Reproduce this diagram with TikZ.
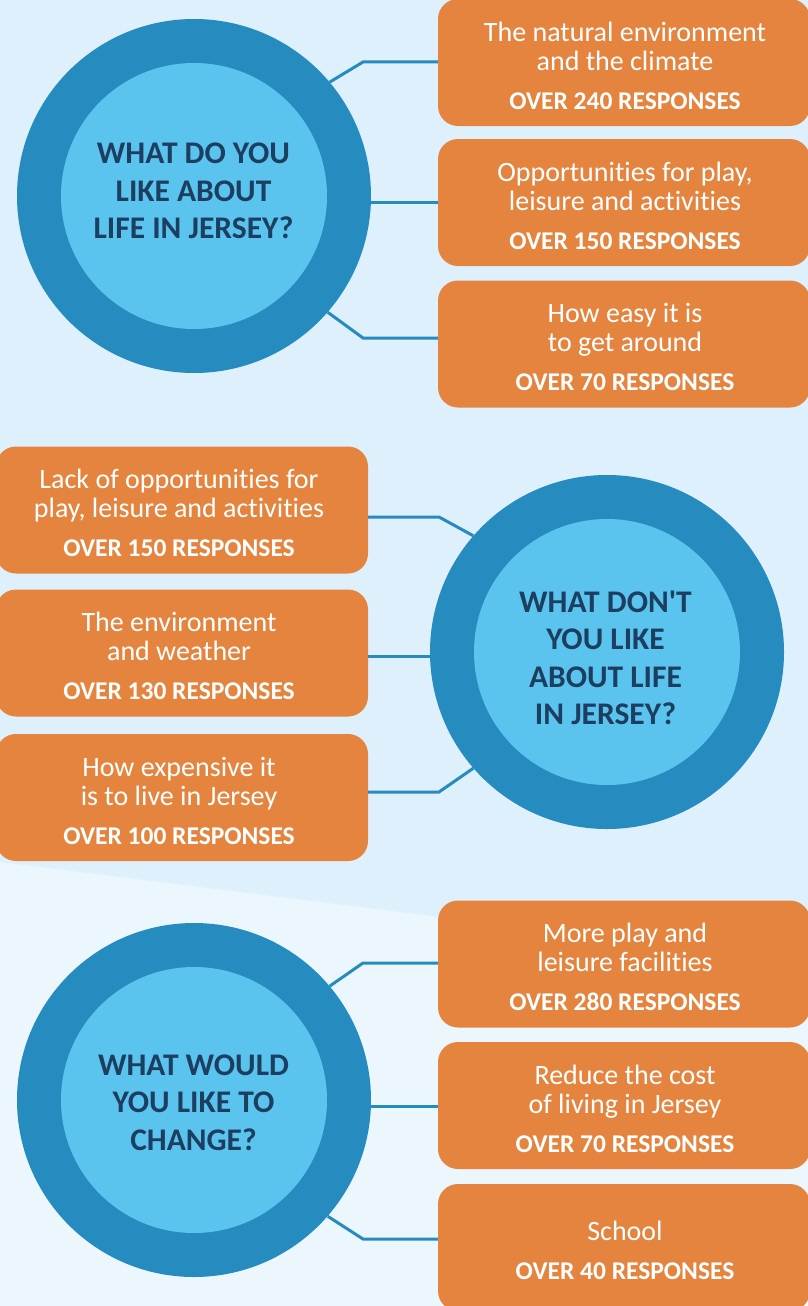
\documentclass[tikz,border=0pt]{standalone}
\usepackage{fontspec}
\setmainfont{Carlito}[Ligatures={TeXOff,CommonOff}]
\usetikzlibrary{calc}
\definecolor{bgtop}{HTML}{DDF0FB}
\definecolor{bglow}{HTML}{ECF7FD}
\definecolor{ringblue}{HTML}{268CBF}
\definecolor{coreblue}{HTML}{5BC4EE}
\definecolor{boxorange}{HTML}{E5843F}
\definecolor{navy}{HTML}{1C3F61}
% bold response count line
\newcommand\tally[1]{{\fontsize{25.5}{29}\selectfont\bfseries #1}}
\begin{document}
\begin{tikzpicture}[x=1pt,y=-1pt,
  ring/.style={circle,fill=ringblue,minimum size=354pt,inner sep=0pt},
  core/.style={circle,fill=coreblue,minimum size=266pt,inner sep=0pt},
  question/.style={text=navy,font=\fontsize{31.5}{37.5}\selectfont\bfseries,align=center,inner sep=0pt},
  answerbox/.style={fill=boxorange,rounded corners=20pt,minimum width=372pt,minimum height=127pt,inner sep=0pt},
  answer/.style={text=white,font=\fontsize{28}{29}\selectfont,align=center,inner sep=0pt},
  link/.style={draw=ringblue,line width=3pt}]

% background with the lighter lower band
\useasboundingbox (0,0) rectangle (808,1306);
\fill[bgtop] (0,0) rectangle (808,1306);
\fill[bglow] (0,862) -- (808,963) -- (808,1306) -- (0,1306) -- cycle;

% ---------- section 1 ----------
\node[answerbox] (r1) at (624,62.5) {};
\node[answerbox] (r2) at (624,202.5) {};
\node[answerbox] (r3) at (624,344) {};
\node[ring] (c1) at (194,196) {};
\node[core] (c1i) at (194,196) {};
\coordinate (k1) at (363,62);
\coordinate (k3) at (363,338);
\draw[link] (c1.40) -- (k1) -- (k1 -| r1.west);
\draw[link] (c1.east |- 0,202) -- (r2.west |- 0,202);
\draw[link] (c1.-41) -- (k3) -- (k3 -| r3.west);
\node[question] (q1) at (193.5,191) {WHAT DO YOU\\LIKE ABOUT\\LIFE IN JERSEY?};
\node[answer] (t1) at ($(r1.center)+(1,3)$) {The natural environment\\and the climate\\[10pt]\tally{OVER 240 RESPONSES}};
\node[answer] (t2) at ($(r2.center)+(1,3)$) {Opportunities for play,\\leisure and activities\\[10pt]\tally{OVER 150 RESPONSES}};
\node[answer] (t3) at ($(r3.center)+(1,3)$) {How easy it is\\to get around\\[10pt]\tally{OVER 70 RESPONSES}};

% ---------- section 2 ----------
\node[answerbox] (l1) at (182,510) {};
\node[answerbox] (l2) at (182,653) {};
\node[answerbox] (l3) at (182,797.5) {};
\node[ring] (c2) at (607,652) {};
\node[core] (c2i) at (607,652) {};
\coordinate (k4) at (439,517);
\coordinate (k6) at (439,792);
\draw[link] (c2.139) -- (k4) -- (k4 -| l1.east);
\draw[link] (c2.west |- 0,656) -- (l2.east |- 0,656);
\draw[link] (c2.221) -- (k6) -- (k6 -| l3.east);
\node[question] (q2) at (605.5,658) {WHAT DON'T\\YOU LIKE\\ABOUT LIFE\\IN JERSEY?};
\node[answer] (t4) at ($(l1.center)+(-3,3)$) {Lack of opportunities for\\play, leisure and activities\\[10pt]\tally{OVER 150 RESPONSES}};
\node[answer] (t5) at ($(l2.center)+(-3,3)$) {The environment\\and weather\\[10pt]\tally{OVER 130 RESPONSES}};
\node[answer] (t6) at ($(l3.center)+(-3,3)$) {How expensive it\\is to live in Jersey\\[10pt]\tally{OVER 100 RESPONSES}};

% ---------- section 3 ----------
\node[answerbox] (r4) at (624,964) {};
\node[answerbox] (r5) at (624,1105.5) {};
\node[answerbox] (r6) at (624,1247.5) {};
\node[ring] (c3) at (194,1100) {};
\node[core] (c3i) at (194,1100) {};
\coordinate (k7) at (363,963);
\coordinate (k9) at (363,1239);
\draw[link] (c3.40) -- (k7) -- (k7 -| r4.west);
\draw[link] (c3.east |- 0,1106) -- (r5.west |- 0,1106);
\draw[link] (c3.-41) -- (k9) -- (k9 -| r6.west);
\node[question] (q3) at (193.5,1102.5) {WHAT WOULD\\YOU LIKE TO\\CHANGE?};
\node[answer] (t7) at ($(r4.center)+(1,3)$) {More play and\\leisure facilities\\[10pt]\tally{OVER 280 RESPONSES}};
\node[answer] (t8) at ($(r5.center)+(1,3)$) {Reduce the cost\\of living in Jersey\\[10pt]\tally{OVER 70 RESPONSES}};
\node[answer] (t9) at ($(r6.center)+(1,2.5)$) {School\\[10pt]\tally{OVER 40 RESPONSES}};
\end{tikzpicture}
\end{document}
